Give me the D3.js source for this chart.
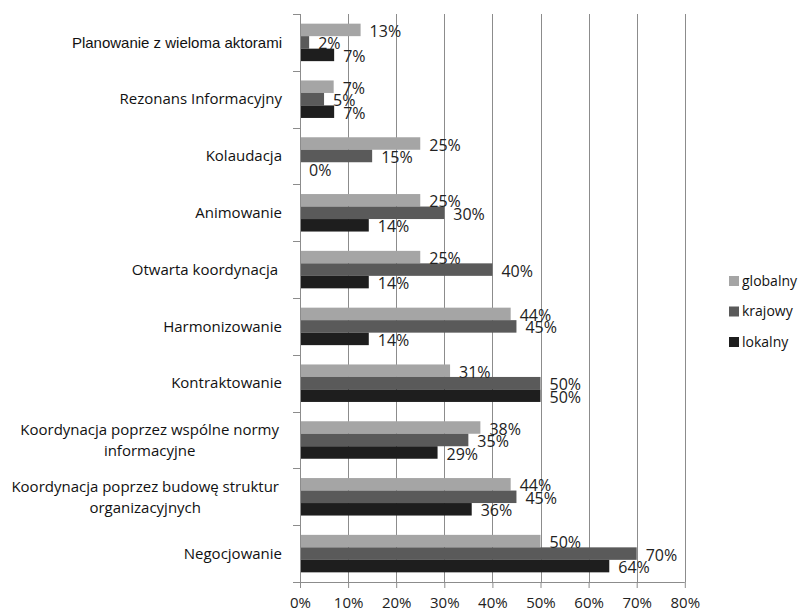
<!DOCTYPE html>
<meta charset="utf-8">
<style>
body { margin: 0; background: #fff; }
.cat { font: 15px "Open Sans", sans-serif; fill: #111; }
.val { font: 16px "Open Sans", sans-serif; fill: #222; }
.axis--x text { font: 15px "Open Sans", sans-serif; fill: #222; }
.axis path, .axis line { stroke: #8c8c8c; }
.grid line { stroke: #8c8c8c; }
.legend text { font: 14px "Open Sans", sans-serif; fill: #111; }
</style>
<svg width="803" height="612"></svg>
<script src="https://cdn.jsdelivr.net/npm/d3@7"></script>
<script>

var categories = [
  "Planowanie z wieloma aktorami",
  "Rezonans Informacyjny",
  "Kolaudacja",
  "Animowanie",
  "Otwarta koordynacja\u00a0",
  "Harmonizowanie",
  "Kontraktowanie",
  "Koordynacja poprzez wspólne normy|informacyjne",
  "Koordynacja poprzez budowę struktur|organizacyjnych",
  "Negocjowanie"
];

var series = ["globalny", "krajowy", "lokalny"];
var colors = ["#a5a5a5", "#5a5a5a", "#1e1e1e"];

var globalny = [12.6, 7, 25, 25, 25, 43.8, 31.2, 37.5, 43.8, 50];
var krajowy  = [1.9, 5, 15, 30, 40, 45, 50, 35, 45, 70];
var lokalny  = [7.1, 7.1, 0, 14.3, 14.3, 14.3, 50, 28.6, 35.7, 64.3];

var xTicks = [0, 10, 20, 30, 40, 50, 60, 70, 80];

var svg = d3.select("svg"),
    margin = {top: 14, right: 118, bottom: 30, left: 300},
    width = +svg.attr("width") - margin.left - margin.right,
    height = +svg.attr("height") - margin.top - margin.bottom;

var table = categories.map(function(c, i) {
  return {cat: c, values: [globalny[i], krajowy[i], lokalny[i]]};
});

var x = d3.scaleLinear().domain([0, 80]).range([0, 384.8]);
var y = d3.scaleBand().domain(categories).range([0, 568])
    .paddingInner(0.34).paddingOuter(0.17);
var ys = d3.scaleBand().domain(series).range([0, y.bandwidth()]);

var g = svg.append("g")
    .attr("transform", "translate(" + margin.left + "," + margin.top + ")");

// vertical gridlines
g.append("g")
    .attr("class", "grid")
  .selectAll("line")
  .data(xTicks.slice(1))
  .enter().append("line")
    .attr("x1", function(d) { return Math.round(x(d)) + 0.5; })
    .attr("x2", function(d) { return Math.round(x(d)) + 0.5; })
    .attr("y1", 0)
    .attr("y2", 568);

// bars
var groups = g.selectAll(".grp")
  .data(table)
  .enter().append("g")
    .attr("class", "grp")
    .attr("transform", function(d) { return "translate(0," + y(d.cat) + ")"; });

groups.selectAll("rect")
  .data(function(d) { return d.values; })
  .enter().append("rect")
    .attr("x", 0)
    .attr("y", function(d, i) { return ys(series[i]); })
    .attr("width", function(d) { return x(d); })
    .attr("height", ys.bandwidth())
    .attr("fill", function(d, i) { return colors[i]; });

groups.selectAll("text.val")
  .data(function(d) { return d.values; })
  .enter().append("text")
    .attr("class", "val")
    .attr("x", function(d) { return x(d) + 9; })
    .attr("y", function(d, i) { return ys(series[i]) + ys.bandwidth() / 2 + 1.5; })
    .attr("dy", "0.35em")
    .text(function(d) { return Math.round(d) + "%"; });

// y axis
var yAxis = d3.axisLeft(y).tickSize(0).tickFormat("");
var ya = g.append("g").attr("class", "axis axis--y").call(yAxis);
ya.select(".domain").attr("d", "M0.5,0V568");
// tick marks between categories
ya.selectAll(".sep")
  .data(d3.range(categories.length + 1))
  .enter().append("line")
    .attr("x1", -7).attr("x2", 0.5)
    .attr("y1", function(i) { return Math.round(i * y.step()) + 0.5; })
    .attr("y2", function(i) { return Math.round(i * y.step()) + 0.5; });

// category labels
var labels = g.selectAll(".cat")
  .data(categories)
  .enter().append("text")
    .attr("class", "cat")
    .attr("transform", function(d) {
      return "translate(-18," + (y(d) + y.bandwidth() / 2) + ")";
    })
    .attr("text-anchor", "end");

labels.filter(function(d, i) { return i === 0; })
    .style("font-family", "'Liberation Sans', Arial, sans-serif");

labels.each(function(d) {
  var lines = d.split("|");
  var t = d3.select(this);
  lines.forEach(function(l, k) {
    t.append("tspan")
      .attr("x", 0)
      .attr("y", (k - (lines.length - 1) / 2) * 21)
      .attr("dy", "0.35em")
      .text(l);
  });
  if (lines.length > 1) {
    // centre the lines on the first (widest) line, right edge kept
    var w = t.select("tspan").node().getComputedTextLength();
    t.attr("text-anchor", "middle")
      .selectAll("tspan").attr("x", -w / 2 - 3);
  }
});

// x axis
var xa = g.append("g")
    .attr("class", "axis axis--x")
    .attr("transform", "translate(0,568)")
    .call(d3.axisBottom(x).tickValues(xTicks).tickSize(6).tickPadding(9)
      .tickFormat(function(d) { return d + "%"; }));
xa.select(".domain").attr("d", "M0,0.5H" + x(80));

// legend
var legend = svg.append("g")
    .attr("class", "legend")
    .attr("transform", "translate(729,281)");

var li = legend.selectAll("g")
  .data(series)
  .enter().append("g")
    .attr("transform", function(d, i) { return "translate(0," + i * 30.5 + ")"; });

li.append("rect")
    .attr("x", 0).attr("y", -5)
    .attr("width", 10).attr("height", 10)
    .attr("fill", function(d, i) { return colors[i]; });

li.append("text")
    .attr("x", 13)
    .attr("dy", "0.35em")
    .text(function(d) { return d; });

</script>
